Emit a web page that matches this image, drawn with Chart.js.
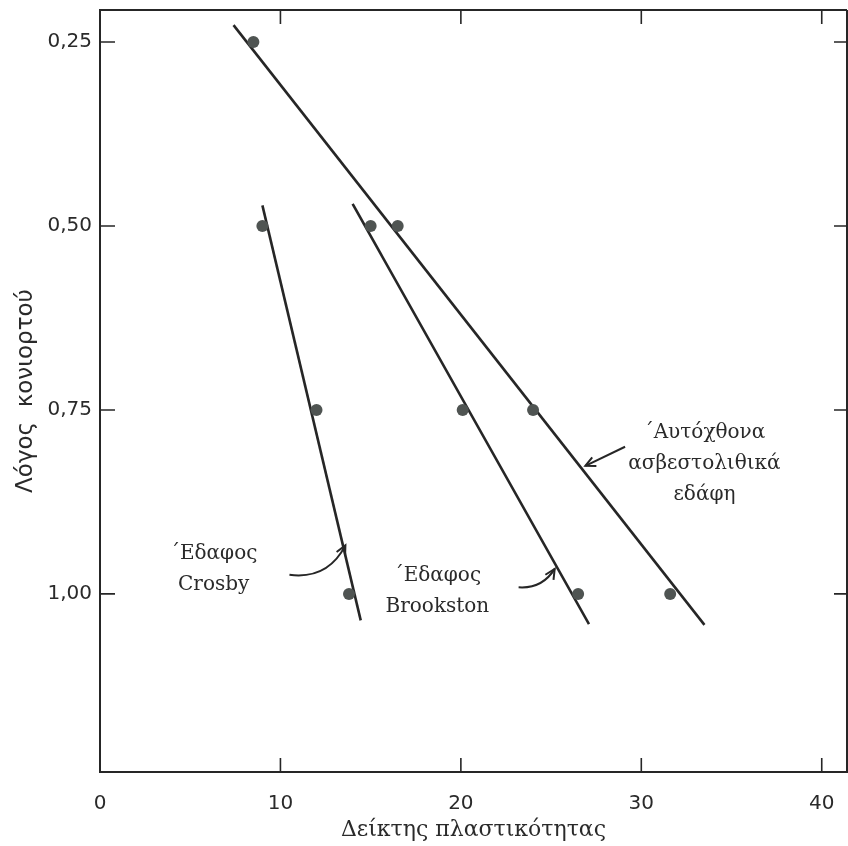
<!DOCTYPE html>
<html>
<head>
<meta charset="utf-8">
<script src="https://cdn.jsdelivr.net/npm/chart.js@4.4.1/dist/chart.umd.min.js"></script>
<style>
html,body{margin:0;padding:0;background:#fff;}
#wrap{width:848px;height:846px;}
</style>
</head>
<body>
<div id="wrap"><canvas id="c" width="848" height="846"></canvas></div>
<script>
// ---- data ----
const xTicks = [0, 10, 20, 30, 40];
const yTicks = [0.25, 0.50, 0.75, 1.00];

// Αυτόχθονα ασβεστολιθικά εδάφη
const autoX = [8.5, 16.5, 24.0, 31.6];
const autoY = [0.25, 0.50, 0.75, 1.00];
const autoFitX = [7.4, 33.5];
const autoFitY = [0.227, 1.042];

// Έδαφος Brookston
const brookX = [15.0, 20.1, 26.5];
const brookY = [0.50, 0.75, 1.00];
const brookFitX = [14.0, 27.1];
const brookFitY = [0.470, 1.041];

// Έδαφος Crosby
const crosbyX = [9.0, 12.0, 13.8];
const crosbyY = [0.50, 0.75, 1.00];
const crosbyFitX = [9.0, 14.45];
const crosbyFitY = [0.472, 1.036];

// labels (text, anchor in data units)
const labels = [
  {lines: ['΄Αυτόχθονα', 'ασβεστολιθικά', 'εδάφη'], x: 33.5, y: 0.781},
  {lines: ['΄Εδαφος', 'Crosby'], x: 6.3, y: 0.946},
  {lines: ['΄Εδαφος', 'Brookston'], x: 18.7, y: 0.975}
];
// arrows: from (x0,y0) to (x1,y1), curve control offset
const arrows = [
  {x0: 29.1, y0: 0.800, x1: 26.9, y1: 0.826, bend: 0},
  {x0: 23.2, y0: 0.991, x1: 25.2, y1: 0.966, bend: 0.3},
  {x0: 10.5, y0: 0.974, x1: 13.6, y1: 0.934, bend: 0.35}
];

const zip = (xs, ys) => xs.map((x, i) => ({x: x, y: ys[i]}));
const INK = '#262626';
const SERIF = '"DejaVu Serif", "Liberation Serif", serif';
const SANS = '"DejaVu Sans", sans-serif';

const frame = {
  id: 'frame',
  afterDraw(chart) {
    const ctx = chart.ctx, a = chart.chartArea, sx = chart.scales.x, sy = chart.scales.y;
    ctx.save();
    ctx.strokeStyle = INK;
    ctx.lineWidth = 2;
    ctx.beginPath();
    ctx.moveTo(a.left, a.top); ctx.lineTo(a.right, a.top);
    ctx.moveTo(a.right, a.top); ctx.lineTo(a.right, a.bottom);
    ctx.stroke();
    ctx.lineWidth = 1.6;
    ctx.beginPath();
    sx.ticks.forEach(t => {
      const px = sx.getPixelForValue(t.value);
      if (t.value > 0) {
        ctx.moveTo(px, a.bottom); ctx.lineTo(px, a.bottom - 14);
        ctx.moveTo(px, a.top); ctx.lineTo(px, a.top + 14);
      }
    });
    sy.ticks.forEach(t => {
      const py = sy.getPixelForValue(t.value);
      ctx.moveTo(a.left, py); ctx.lineTo(a.left + 15, py);
      ctx.moveTo(a.right, py); ctx.lineTo(a.right - 13, py);
    });
    ctx.stroke();

    // labels
    ctx.fillStyle = '#2a2a2a';
    ctx.font = '20px ' + SERIF;
    ctx.textAlign = 'center';
    ctx.textBaseline = 'middle';
    labels.forEach(l => {
      const cx = sx.getPixelForValue(l.x), cy = sy.getPixelForValue(l.y);
      l.lines.forEach((s, i) => ctx.fillText(s, cx, cy + i * 31));
    });

    // arrows
    ctx.strokeStyle = INK;
    ctx.lineWidth = 2;
    arrows.forEach(ar => {
      const x0 = sx.getPixelForValue(ar.x0), y0 = sy.getPixelForValue(ar.y0);
      const x1 = sx.getPixelForValue(ar.x1), y1 = sy.getPixelForValue(ar.y1);
      const mx = (x0 + x1) / 2, my = (y0 + y1) / 2;
      const dx = x1 - x0, dy = y1 - y0;
      const cx = mx - dy * ar.bend, cy = my + dx * ar.bend;
      ctx.beginPath();
      ctx.moveTo(x0, y0);
      ctx.quadraticCurveTo(cx, cy, x1, y1);
      ctx.stroke();
      const ang = Math.atan2(y1 - cy, x1 - cx);
      const L = 11, w = 0.45;
      ctx.beginPath();
      ctx.moveTo(x1 - L * Math.cos(ang - w), y1 - L * Math.sin(ang - w));
      ctx.lineTo(x1, y1);
      ctx.lineTo(x1 - L * Math.cos(ang + w), y1 - L * Math.sin(ang + w));
      ctx.stroke();
    });
    ctx.restore();
  }
};

const lineDs = (xs, ys) => ({
  data: zip(xs, ys), showLine: true, borderColor: INK, borderWidth: 2.6,
  pointRadius: 0, pointHoverRadius: 0, fill: false, order: 2
});
const ptDs = (xs, ys) => ({
  data: zip(xs, ys), showLine: false, pointRadius: 6, pointBackgroundColor: '#4f5452',
  pointBorderColor: '#4f5452', pointBorderWidth: 0, order: 1
});

new Chart(document.getElementById('c'), {
  type: 'scatter',
  data: {
    datasets: [
      lineDs(autoFitX, autoFitY), lineDs(brookFitX, brookFitY), lineDs(crosbyFitX, crosbyFitY),
      ptDs(autoX, autoY), ptDs(brookX, brookY), ptDs(crosbyX, crosbyY)
    ]
  },
  options: {
    responsive: false,
    animation: false,
    devicePixelRatio: 1,
    layout: {autoPadding: false, padding: {top: 10, right: 1, left: 0, bottom: 0}},
    plugins: {legend: {display: false}, tooltip: {enabled: false}},
    scales: {
      x: {
        type: 'linear', min: 0, max: 41.4,
        afterBuildTicks: s => { s.ticks = xTicks.map(v => ({value: v})); },
        afterFit: s => { s.height = 74; s.paddingLeft = 0; s.paddingRight = 0; },
        grid: {drawOnChartArea: false, drawTicks: false},
        border: {display: true, color: INK, width: 2},
        ticks: {padding: 20, color: '#2a2a2a', font: {family: SANS, size: 20}, maxRotation: 0},
        title: {display: true, text: 'Δείκτης πλαστικότητας', color: '#2a2a2a',
          font: {family: SERIF, size: 22}, padding: {top: 0, bottom: 3}}
      },
      y: {
        type: 'linear', reverse: true, min: 0.2065, max: 1.242,
        afterBuildTicks: s => { s.ticks = yTicks.map(v => ({value: v})); },
        afterFit: s => { s.width = 100; s.paddingTop = 0; s.paddingBottom = 0; },
        grid: {drawOnChartArea: false, drawTicks: false},
        border: {display: true, color: INK, width: 2},
        ticks: {padding: 8, color: '#2a2a2a', font: {family: SANS, size: 20},
          callback: v => v.toFixed(2).replace('.', ',')},
        title: {display: true, text: 'Λόγος  κονιορτού', color: '#2a2a2a',
          font: {family: SANS, size: 23}, padding: {top: 12, bottom: 0}}
      }
    }
  },
  plugins: [frame]
});
</script>
</body>
</html>
